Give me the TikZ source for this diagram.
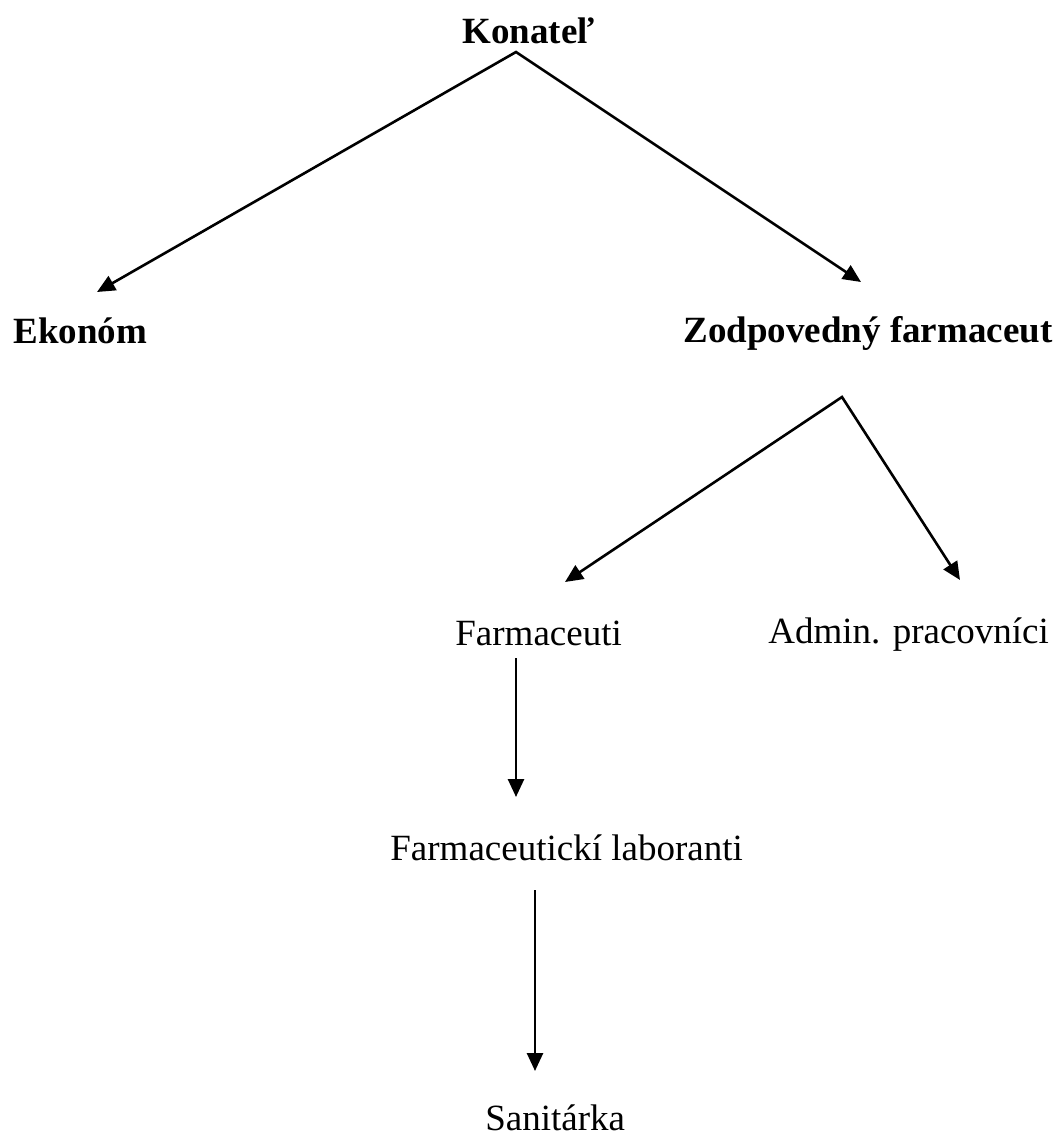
\documentclass[tikz,border=0pt]{standalone}
\usepackage{fontspec}
\setmainfont{Liberation Serif}
\usetikzlibrary{arrows.meta}
\begin{document}
\begin{tikzpicture}[x=0.5pt,y=-0.5pt,
  every node/.style={inner sep=0pt,anchor=base west,font=\fontsize{18.5}{22}\selectfont},
  boss/.style={font=\fontsize{18.5}{22}\selectfont\bfseries},
  fork/.style={line width=1.3pt,{Triangle[length=9pt,width=8pt]}-{Triangle[length=9pt,width=8pt]}},
  down/.style={line width=1.3pt,-{Triangle[length=9pt,width=8pt]}}]
\useasboundingbox (0,0) rectangle (1061,1142);

\node[boss] (kon) at (462,43) {Konateľ};
\node[boss] (eko) at (13,343) {Ekonóm};
\node[boss] (zod) at (683,342) {Zodpovedný farmaceut};
\node (far) at (455,645) {Farmaceuti};
\node (adm) at (768,643) {Admin. pracovníci};
\node (lab) at (390,860) {Farmaceutickí laboranti};
\node (san) at (485,1130) {Sanitárka};

\coordinate (konS) at (516,52);
\coordinate (ekoN) at (97,292);
\coordinate (zodN) at (861,282);
\coordinate (zodS) at (842,397);
\coordinate (farN) at (565,582);
\coordinate (admN) at (960,580);
\coordinate (farS) at (516,658);
\coordinate (labN) at (516,797);
\coordinate (labS) at (535,890);
\coordinate (sanN) at (535,1071);

\draw[fork] (ekoN) -- (konS) -- (zodN);
\draw[fork] (farN) -- (zodS) -- (admN);
\draw[down] (farS) -- (labN);
\draw[down] (labS) -- (sanN);
\end{tikzpicture}
\end{document}
